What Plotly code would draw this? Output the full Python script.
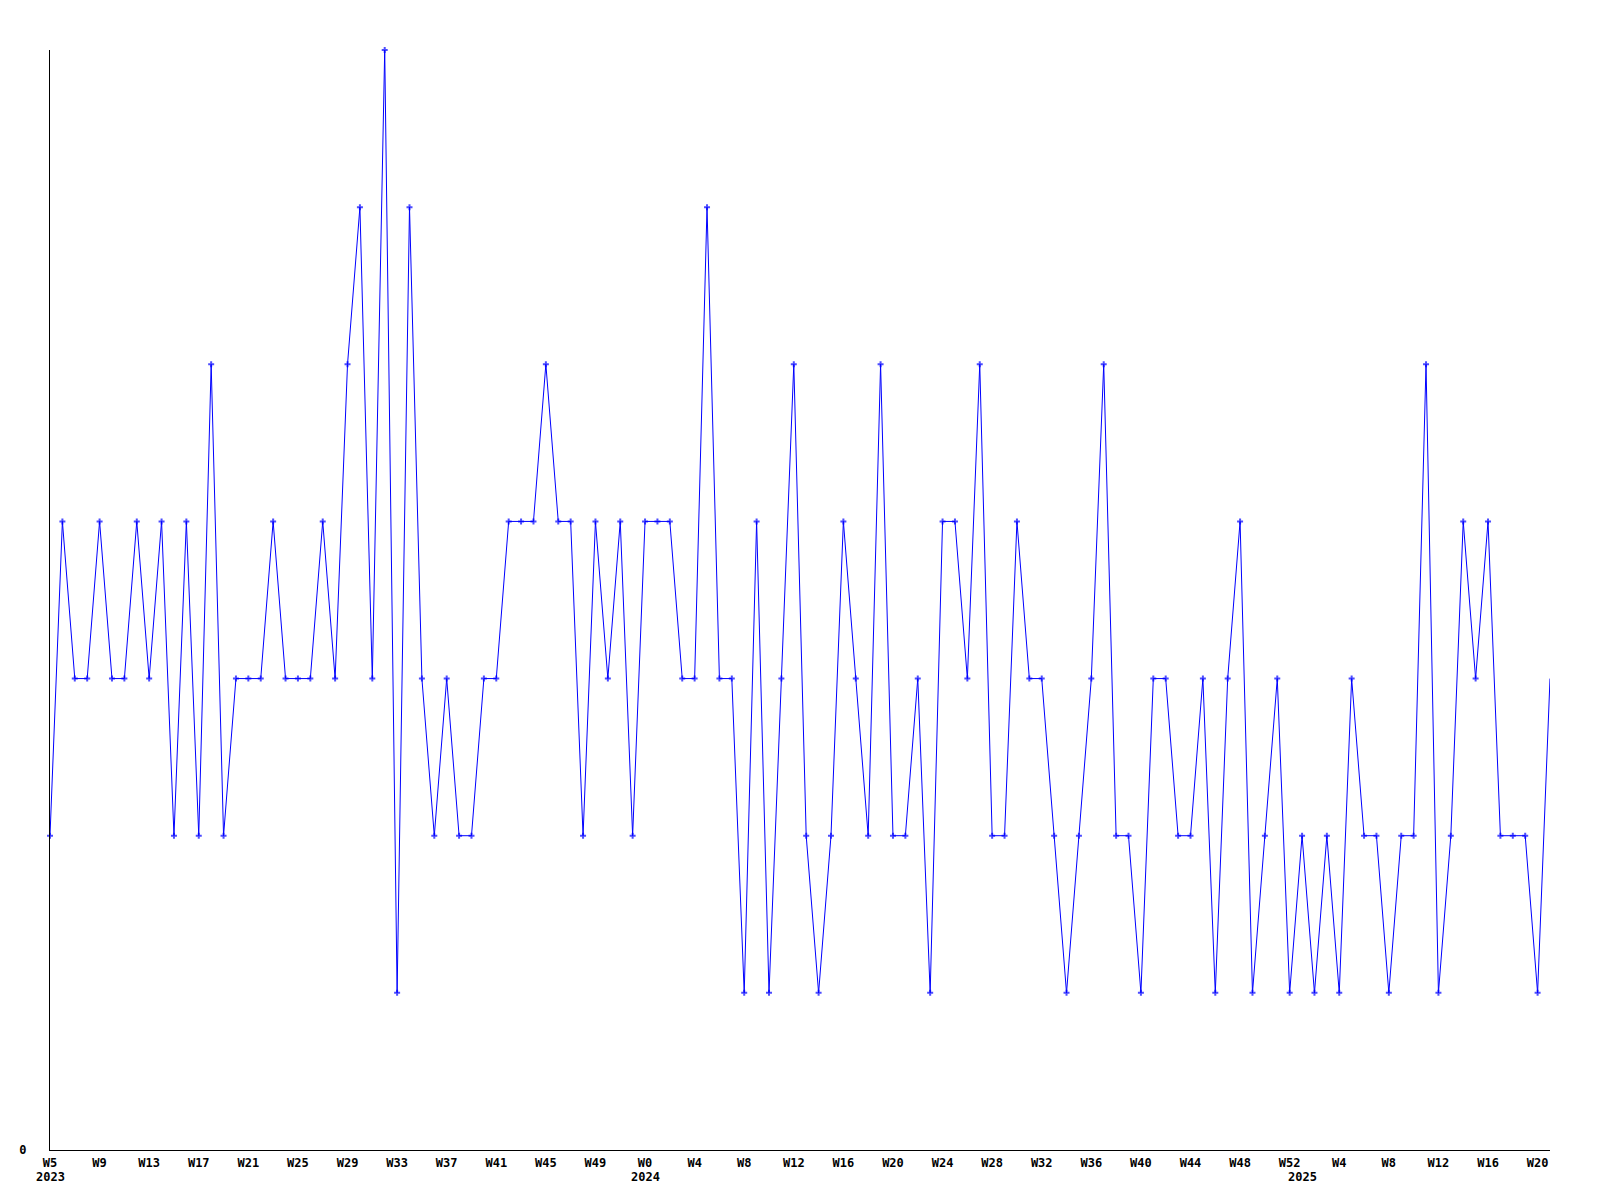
import pandas as pd
import plotly.graph_objects as go

# Weekly values (Mondays), 2023-W5 .. 2025-W21
values_2023 = [2, 4, 3, 3, 4, 3, 3, 4, 3, 4, 2, 4, 2, 5, 2, 3, 3, 3, 4, 3, 3, 3, 4, 3,
               5, 6, 3, 7, 1, 6, 3, 2, 3, 2, 2, 3, 3, 4, 4, 4, 5, 4, 4, 2, 4, 3, 4, 2]
values_2024 = [4, 4, 4, 3, 3, 6, 3, 3, 1, 4, 1, 3, 5, 2, 1, 2, 4, 3, 2, 5, 2, 2, 3, 1,
               4, 4, 3, 5, 2, 2, 4, 3, 3, 2, 1, 2, 3, 5, 2, 2, 1, 3, 3, 2, 2, 3, 1, 3,
               4, 1, 2, 3, 1]
values_2025 = [2, 1, 2, 1, 3, 2, 2, 1, 2, 2, 5, 1, 2, 4, 3, 4, 2, 2, 2, 1, 3]
first_week = "2023-01-30"
year_labels = ["2023", "2024", "2025"]
y_tick_values = [0]
y_tick_labels = ["0"]

values = values_2023 + values_2024 + values_2025
dates = pd.date_range(first_week, periods=len(values), freq="7D")
tick_dates = list(dates[::4])
tick_text = ["W%d" % int(d.strftime("%U")) for d in tick_dates]

FONT = dict(family="DejaVu Sans Mono", size=12, color="black", weight="bold")
BLUE = "#0000ff"

marker_sizes = [5] * (len(values) - 1) + [0]

fig = go.Figure()
fig.add_trace(go.Scatter(
    x=dates, y=values, mode="lines+markers",
    line=dict(color=BLUE, width=1),
    marker=dict(symbol="cross", size=marker_sizes, color=BLUE, line=dict(width=0)),
    cliponaxis=False, hoverinfo="x+y", showlegend=False,
))

for yl in year_labels:
    first = next(d for d in dates if str(d.year) == yl)
    fig.add_annotation(x=first, y=0, xref="x", yref="paper", text=yl,
                       showarrow=False, font=FONT, xanchor="center",
                       yanchor="middle", yshift=-27)

fig.update_layout(
    width=1584, height=1184,
    margin=dict(l=42, r=42, t=42, b=42),
    paper_bgcolor="white", plot_bgcolor="white",
    font=FONT,
    xaxis=dict(type="date", range=[dates[0], dates[-1]], showgrid=False,
               zeroline=False, showline=True, linecolor="black", linewidth=1,
               tickvals=tick_dates, ticktext=tick_text, tickangle=0,
               ticks="outside", ticklen=2, tickcolor="rgba(0,0,0,0)",
               tickfont=FONT),
    yaxis=dict(range=[0, 7], showgrid=False, zeroline=False, showline=True,
               linecolor="black", linewidth=1, tickvals=y_tick_values,
               ticktext=y_tick_labels, ticks="outside", ticklen=20,
               tickcolor="rgba(0,0,0,0)", tickfont=FONT),
)

fig.write_html("out.html")
